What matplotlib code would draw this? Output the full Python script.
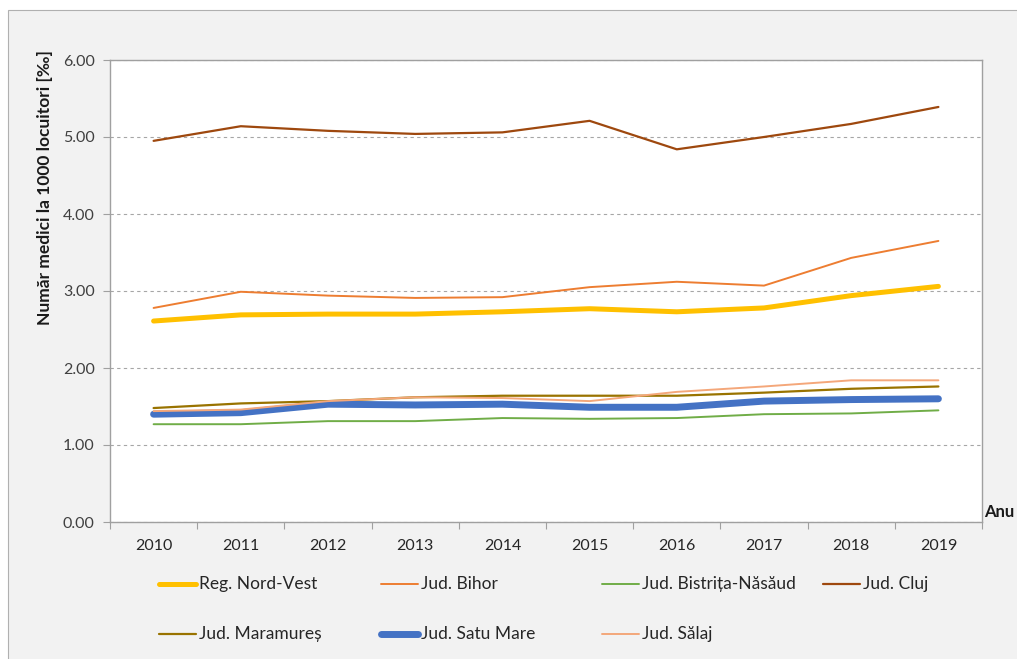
import matplotlib
matplotlib.use("Agg")
import matplotlib.pyplot as plt
from matplotlib.lines import Line2D
from matplotlib.patches import Rectangle

plt.rcParams['font.family'] = ['Lato', 'DejaVu Sans']

years = ['2010', '2011', '2012', '2013', '2014', '2015', '2016', '2017', '2018', '2019']
nord_vest = [2.61, 2.69, 2.70, 2.70, 2.73, 2.77, 2.73, 2.78, 2.94, 3.06]
bihor = [2.78, 2.99, 2.94, 2.91, 2.92, 3.05, 3.12, 3.07, 3.43, 3.65]
bistrita = [1.27, 1.27, 1.31, 1.31, 1.35, 1.34, 1.35, 1.40, 1.41, 1.45]
cluj = [4.95, 5.14, 5.08, 5.04, 5.06, 5.21, 4.84, 5.00, 5.17, 5.39]
maramures = [1.48, 1.54, 1.57, 1.62, 1.64, 1.64, 1.64, 1.68, 1.73, 1.76]
satu_mare = [1.40, 1.42, 1.53, 1.52, 1.53, 1.49, 1.49, 1.57, 1.59, 1.60]
salaj = [1.44, 1.46, 1.57, 1.62, 1.61, 1.57, 1.69, 1.76, 1.84, 1.84]

series = [
    ('Reg. Nord-Vest', nord_vest, '#FFC000', 3.6),
    ('Jud. Bihor', bihor, '#ED7D31', 1.4),
    ('Jud. Bistrița-Năsăud', bistrita, '#70AD47', 1.4),
    ('Jud. Cluj', cluj, '#9E480E', 1.6),
    ('Jud. Maramureș', maramures, '#997300', 1.6),
    ('Jud. Satu Mare', satu_mare, '#4472C4', 5.0),
    ('Jud. Sălaj', salaj, '#F4A77A', 1.4),
]

W, H = 1017, 659
fig = plt.figure(figsize=(W / 100, H / 100), dpi=100, facecolor='white')
fig.patches.append(Rectangle((8 / W, -0.1), 1.2, 1 - 10 / H + 0.1, transform=fig.transFigure,
                             facecolor='#f2f2f2', edgecolor='#b0b0b0', lw=0.8, zorder=-10))

ax = fig.add_axes([110 / W, 1 - 522 / H, 872 / W, 462 / H])
ax.set_facecolor('white')

x = list(range(len(years)))
for name, vals, col, lw in series:
    ax.plot(x, vals, color=col, lw=lw, solid_capstyle='round', solid_joinstyle='round')

ax.set_ylim(0, 6)
ax.set_yticks([0, 1, 2, 3, 4, 5, 6])
ax.set_yticklabels(['%.2f' % v for v in [0, 1, 2, 3, 4, 5, 6]])
ax.yaxis.grid(True, ls=(0, (3, 3)), color='#a6a6a6', lw=0.8)
ax.set_axisbelow(True)

ax.set_xlim(-0.5, len(years) - 0.5)
ax.set_xticks([i - 0.5 for i in range(len(years) + 1)])
ax.set_xticklabels([])
ax.set_xticks(x, minor=True)
ax.set_xticklabels(years, minor=True)
ax.tick_params(axis='x', which='major', length=5, color='#a0a0a0', direction='out')
ax.tick_params(axis='x', which='minor', length=0, pad=12, labelsize=11.5, labelcolor='#262626')
ax.tick_params(axis='y', length=5, color='#a0a0a0', pad=6, labelsize=11.5, labelcolor='#404040')

for s in ax.spines.values():
    s.set_color('#a0a0a0')
    s.set_linewidth(1.0)

fig.text(45 / W, 1 - 188 / H, 'Număr medici la 1000 locuitori [‰]', rotation=90,
         ha='center', va='center', fontsize=12.5, fontweight='bold', color='#1a1a1a')
fig.text(984 / W, 1 - 512 / H, 'Anu', ha='left', va='center', fontsize=12,
         fontweight='bold', color='#1a1a1a')

# legend drawn in two rows
leg_x = [159, 381, 602, 823]
leg_y = [584, 634]
for i, (name, vals, col, lw) in enumerate(series):
    lx = leg_x[i % 4]
    ly = leg_y[i // 4]
    fig.add_artist(Line2D([lx / W, (lx + 37) / W], [1 - ly / H, 1 - ly / H],
                          transform=fig.transFigure, color=col, lw=lw,
                          solid_capstyle='round'))
    fig.text((lx + 40) / W, 1 - ly / H, name, ha='left', va='center',
             fontsize=12.5, color='#262626')

fig.savefig('out.png', dpi=100, facecolor=fig.get_facecolor())
